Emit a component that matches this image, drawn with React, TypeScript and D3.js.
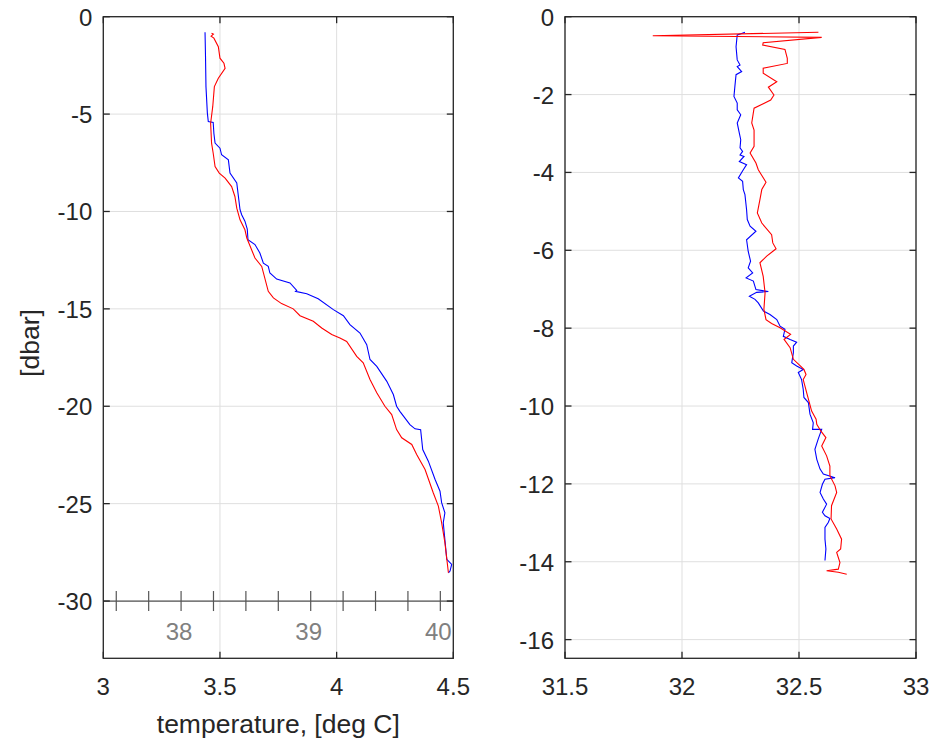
import React from "react";
import * as d3 from "d3";

// ---------- data ----------
// Left panel: temperature [deg C] vs pressure [dbar]
const leftRed: [number, number][] = [
  [3.464, -0.85], [3.472, -0.9], [3.462, -1.0], [3.474, -1.1], [3.493, -1.54], [3.5, -2.13],
  [3.517, -2.39], [3.522, -2.65], [3.493, -3.16], [3.476, -3.59], [3.469, -4.62],
  [3.46, -5.47], [3.464, -6.49], [3.471, -7.01], [3.479, -7.69], [3.497, -8.03],
  [3.522, -8.29], [3.55, -8.72], [3.564, -9.23], [3.572, -9.83], [3.586, -10.43],
  [3.607, -10.94], [3.615, -11.36], [3.65, -12.39], [3.679, -12.82], [3.707, -14.1],
  [3.729, -14.44], [3.764, -14.73], [3.814, -15.0], [3.843, -15.35], [3.9, -15.64],
  [3.936, -15.98], [3.979, -16.32], [4.014, -16.49], [4.043, -16.67], [4.086, -17.44],
  [4.114, -17.77], [4.143, -18.63], [4.172, -19.31], [4.207, -20.0], [4.236, -20.43],
  [4.257, -21.2], [4.279, -21.62], [4.322, -21.96], [4.343, -22.48], [4.379, -23.25],
  [4.414, -24.44], [4.436, -25.13], [4.45, -25.98], [4.464, -27.0], [4.479, -28.55],
];
const leftBlue: [number, number][] = [
  [3.436, -0.8], [3.438, -2.0], [3.44, -3.59], [3.446, -4.95], [3.45, -5.38],
  [3.471, -5.43], [3.474, -6.0], [3.479, -6.49], [3.5, -6.75], [3.507, -7.09],
  [3.536, -7.35], [3.543, -8.03], [3.572, -8.54], [3.586, -9.91], [3.593, -10.17],
  [3.607, -10.5], [3.617, -10.9], [3.62, -11.45], [3.65, -11.7], [3.671, -12.13],
  [3.686, -12.65], [3.707, -12.82], [3.714, -13.16], [3.743, -13.47], [3.8, -13.67],
  [3.829, -14.05], [3.824, -14.1], [3.872, -14.22], [3.921, -14.48], [3.986, -15.04],
  [4.029, -15.35], [4.057, -15.81], [4.1, -16.24], [4.129, -16.84], [4.143, -17.6],
  [4.172, -17.95], [4.215, -18.72], [4.243, -19.4], [4.257, -20.0], [4.271, -20.26],
  [4.314, -20.94], [4.336, -21.16], [4.36, -21.2], [4.369, -22.22], [4.393, -22.82],
  [4.422, -23.76], [4.443, -24.36], [4.45, -24.95], [4.464, -25.47], [4.457, -25.98],
  [4.472, -27.86], [4.493, -28.12], [4.486, -28.46], [4.479, -28.55],
];
// Right panel: salinity vs pressure [dbar]
const rightRed: [number, number][] = [
  [32.583, -0.4], [31.875, -0.49], [32.597, -0.53], [32.347, -0.67], [32.345, -0.73],
  [32.44, -0.84], [32.45, -1.07], [32.45, -1.2], [32.347, -1.32], [32.347, -1.45],
  [32.405, -1.67], [32.369, -1.81], [32.393, -2.01], [32.379, -2.14], [32.308, -2.35],
  [32.298, -2.73], [32.308, -2.91], [32.308, -3.33], [32.291, -3.5], [32.316, -3.76],
  [32.326, -3.93], [32.359, -4.25], [32.341, -4.44], [32.333, -4.7], [32.322, -5.04],
  [32.341, -5.3], [32.383, -5.6], [32.388, -5.81], [32.402, -5.96], [32.362, -6.15],
  [32.333, -6.32], [32.347, -6.67], [32.355, -7.09], [32.35, -7.52], [32.359, -7.78],
  [32.383, -7.88], [32.419, -7.99], [32.464, -8.16], [32.436, -8.29], [32.462, -8.5],
  [32.476, -8.8], [32.521, -9.06], [32.53, -9.19], [32.518, -9.32], [32.526, -9.5],
  [32.533, -9.66], [32.554, -10.13], [32.573, -10.34], [32.576, -10.47], [32.593, -10.64],
  [32.615, -10.81], [32.597, -11.03], [32.618, -11.28], [32.632, -11.54], [32.632, -11.79],
  [32.654, -12.05], [32.661, -12.22], [32.639, -12.56], [32.637, -12.9], [32.661, -13.16],
  [32.682, -13.42], [32.678, -13.67], [32.661, -13.76], [32.675, -14.02], [32.668, -14.19],
  [32.618, -14.23], [32.668, -14.27], [32.704, -14.32],
];
const rightBlue: [number, number][] = [
  [32.269, -0.4], [32.255, -0.43], [32.236, -0.47], [32.231, -0.77], [32.236, -1.11],
  [32.248, -1.24], [32.236, -1.28], [32.255, -1.41], [32.231, -1.49], [32.226, -1.79],
  [32.222, -2.05], [32.236, -2.22], [32.236, -2.39], [32.251, -2.52], [32.236, -2.73],
  [32.245, -2.99], [32.251, -3.16], [32.248, -3.37], [32.259, -3.46], [32.248, -3.55],
  [32.265, -3.59], [32.245, -3.72], [32.276, -3.8], [32.262, -3.93], [32.241, -4.14],
  [32.259, -4.23], [32.262, -4.44], [32.269, -4.57], [32.276, -4.96], [32.279, -5.21],
  [32.291, -5.38], [32.316, -5.51], [32.276, -5.73], [32.283, -6.03], [32.293, -6.28],
  [32.283, -6.45], [32.302, -6.58], [32.274, -6.71], [32.305, -6.79], [32.316, -7.01],
  [32.369, -7.06], [32.319, -7.08], [32.288, -7.18], [32.312, -7.26], [32.326, -7.35],
  [32.348, -7.56], [32.376, -7.65], [32.405, -7.78], [32.419, -7.95], [32.44, -8.03],
  [32.433, -8.21], [32.462, -8.29], [32.49, -8.36], [32.476, -8.46], [32.476, -8.63],
  [32.469, -8.89], [32.49, -8.97], [32.518, -9.06], [32.497, -9.14], [32.511, -9.32],
  [32.518, -9.57], [32.521, -9.78], [32.54, -9.91], [32.547, -10.21], [32.561, -10.43],
  [32.558, -10.6], [32.597, -10.6], [32.582, -10.85], [32.568, -11.11], [32.576, -11.37],
  [32.59, -11.62], [32.604, -11.75], [32.654, -11.84], [32.611, -11.88], [32.6, -12.01],
  [32.59, -12.22], [32.604, -12.39], [32.618, -12.52], [32.6, -12.73], [32.611, -12.82],
  [32.632, -12.89], [32.625, -12.99], [32.611, -13.12], [32.611, -13.42], [32.615, -13.67],
  [32.611, -13.97],
];

const leftXTicks = [3, 3.5, 4, 4.5];
const leftYTicks = [0, -5, -10, -15, -20, -25, -30];
const rightXTicks = [31.5, 32, 32.5, 33];
const rightYTicks = [0, -2, -4, -6, -8, -10, -12, -14, -16];
const fahrenheitTicks = [37.5, 37.75, 38, 38.25, 38.5, 38.75, 39, 39.25, 39.5, 39.75, 40];
const fahrenheitLabels = [38, 39, 40];

const xLabelLeft = "temperature, [deg C]";
const yLabelLeft = "[dbar]";

// ---------- layout ----------
const W = 941, H = 739;
const TOP = 16.7, BOTTOM = 658.3;
const FONT = "'Liberation Sans', Arial, Helvetica, sans-serif";
const AX = "#262626";
const GRID = "#dfdfdf";
const TICK = 6.5;
const TFS = 24;

interface PanelProps {
  x0: number; x1: number;
  xDomain: [number, number]; yDomain: [number, number];
  xTicks: number[]; yTicks: number[];
  red: [number, number][]; blue: [number, number][];
  extra?: (x: d3.ScaleLinear<number, number>, y: d3.ScaleLinear<number, number>) => React.ReactNode;
  clipId: string;
}

function Panel({ x0, x1, xDomain, yDomain, xTicks, yTicks, red, blue, extra, clipId }: PanelProps) {
  const x = d3.scaleLinear().domain(xDomain).range([x0, x1]);
  const y = d3.scaleLinear().domain(yDomain).range([BOTTOM, TOP]);
  const line = d3.line<[number, number]>().x((d) => x(d[0])).y((d) => y(d[1]));
  return (
    <g>
      <defs>
        <clipPath id={clipId}>
          <rect x={x0} y={TOP} width={x1 - x0} height={BOTTOM - TOP} />
        </clipPath>
      </defs>
      <rect x={x0} y={TOP} width={x1 - x0} height={BOTTOM - TOP} fill="#fff" />
      {xTicks.map((t) => (
        <line key={"gx" + t} x1={x(t)} x2={x(t)} y1={TOP} y2={BOTTOM} stroke={GRID} strokeWidth={1} />
      ))}
      {yTicks.map((t) => (
        <line key={"gy" + t} x1={x0} x2={x1} y1={y(t)} y2={y(t)} stroke={GRID} strokeWidth={1} />
      ))}
      <g clipPath={`url(#${clipId})`}>
        <path d={line(blue) || ""} fill="none" stroke="#0000ff" strokeWidth={1.1} />
        <path d={line(red) || ""} fill="none" stroke="#ff0000" strokeWidth={1.1} />
      </g>
      {extra && extra(x, y)}
      <rect x={x0} y={TOP} width={x1 - x0} height={BOTTOM - TOP} fill="none" stroke={AX} strokeWidth={1.3} />
      {xTicks.map((t) => (
        <g key={"tx" + t}>
          <line x1={x(t)} x2={x(t)} y1={BOTTOM} y2={BOTTOM - TICK} stroke={AX} strokeWidth={1.3} />
          <line x1={x(t)} x2={x(t)} y1={TOP} y2={TOP + TICK} stroke={AX} strokeWidth={1.3} />
          <text x={x(t)} y={695} textAnchor="middle" fontSize={TFS} fill={AX} fontFamily={FONT}>
            {String(t)}
          </text>
        </g>
      ))}
      {yTicks.map((t) => (
        <g key={"ty" + t}>
          <line x1={x0} x2={x0 + TICK} y1={y(t)} y2={y(t)} stroke={AX} strokeWidth={1.3} />
          <line x1={x1} x2={x1 - TICK} y1={y(t)} y2={y(t)} stroke={AX} strokeWidth={1.3} />
          <text x={x0 - 11} y={y(t) + 9} textAnchor="end" fontSize={TFS} fill={AX} fontFamily={FONT}>
            {String(t)}
          </text>
        </g>
      ))}
    </g>
  );
}

export default function App() {
  const leftX0 = 103.3, leftX1 = 453.3;
  const fahrenheitAxis = (x: d3.ScaleLinear<number, number>, y: d3.ScaleLinear<number, number>) => {
    const [c0, c1] = x.domain();
    const f = d3.scaleLinear().domain([c0 * 9 / 5 + 32, c1 * 9 / 5 + 32]).range(x.range());
    const yy = y(-30);
    return (
      <g>
        <line x1={leftX0} x2={leftX1} y1={yy} y2={yy} stroke="#555" strokeWidth={1.2} />
        {fahrenheitTicks.map((t) => (
          <line key={"ft" + t} x1={f(t)} x2={f(t)} y1={yy - 10} y2={yy + 10} stroke="#555" strokeWidth={1.2} />
        ))}
        {fahrenheitLabels.map((t) => (
          <text key={"fl" + t} x={Math.min(f(t) - 2, leftX1 - 15)} y={yy + 39} textAnchor="middle"
            fontSize={TFS} fill="#808080" fontFamily={FONT}>
            {String(t)}
          </text>
        ))}
      </g>
    );
  };
  return (
    <svg width={W} height={H} style={{ position: "absolute", left: 0, top: 0, background: "#fff" }}
      xmlns="http://www.w3.org/2000/svg">
      <rect width={W} height={H} fill="#fff" />
      <Panel x0={leftX0} x1={leftX1} xDomain={[3, 4.5]} yDomain={[-32.94, 0]}
        xTicks={leftXTicks} yTicks={leftYTicks} red={leftRed} blue={leftBlue}
        extra={fahrenheitAxis} clipId="clipL" />
      <Panel x0={565} x1={916} xDomain={[31.5, 33]} yDomain={[-16.48, 0]}
        xTicks={rightXTicks} yTicks={rightYTicks} red={rightRed} blue={rightBlue} clipId="clipR" />
      <text x={278.3} y={733} textAnchor="middle" fontSize={26.5} fill={AX} fontFamily={FONT}>
        {xLabelLeft}
      </text>
      <text transform={`translate(39,343) rotate(-90)`} textAnchor="middle" fontSize={26.5} fill={AX}
        fontFamily={FONT}>
        {yLabelLeft}
      </text>
    </svg>
  );
}
